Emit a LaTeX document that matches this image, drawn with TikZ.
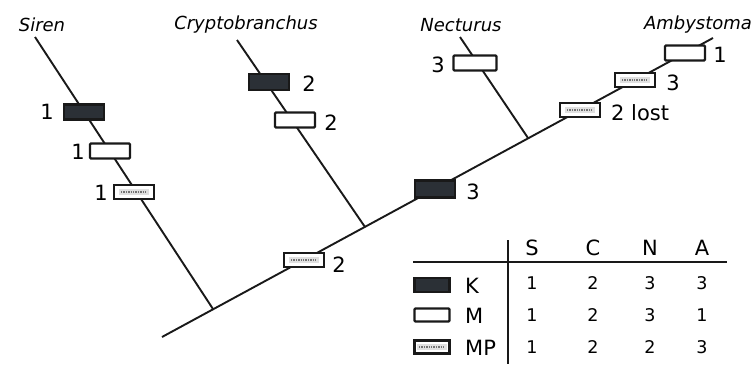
\documentclass[tikz,border=0pt]{standalone}
\usepackage{fontspec}
\setmainfont{DejaVu Sans}
\usetikzlibrary{calc}
\definecolor{kfill}{rgb}{0.17,0.19,0.21}
\tikzset{
  br/.style={line width=1.9pt, black!90},
  basebox/.style={draw=black!90, line width=2.2pt, inner sep=0pt, minimum width=40pt, minimum height=15pt},
  kbox/.style={basebox, fill=kfill},
  mbox/.style={basebox, fill=white, rounded corners=1pt},
  mpbox/.style={basebox, fill=white, minimum height=14pt,
    path picture={\fill[black!12] ([xshift=-15pt,yshift=-3pt]path picture bounding box.center) rectangle ([xshift=15pt,yshift=3pt]path picture bounding box.center);
      \draw[black!55, densely dotted, line width=1.4pt]
      ([xshift=-13pt]path picture bounding box.center) -- ([xshift=13pt]path picture bounding box.center);}},
  sp/.style={font=\fontsize{18}{20}\selectfont\itshape, inner sep=0pt},
  num/.style={font=\fontsize{21}{24}\selectfont, inner sep=0pt},
  hd/.style={font=\fontsize{21}{24}\selectfont, inner sep=0pt},
  td/.style={font=\fontsize{17.5}{20}\selectfont, inner sep=0pt},
}
\begin{document}
\begin{tikzpicture}[x=1pt,y=-1pt]
\useasboundingbox (0,0) rectangle (754,364);
% species labels
\node[sp] (siren) at (42,25) {Siren};
\node[sp] (cryp) at (246,25) {Cryptobranchus};
\node[sp] (nect) at (461,25) {Necturus};
\node[sp] (amb) at (698,25) {Ambystoma};
% coordinates
\coordinate (root) at (162,337);
\coordinate (jS) at (213,309);
\coordinate (jC) at (365,227);
\coordinate (jN) at (528,138);
\coordinate (sTop) at (35,37);
\coordinate (cTop) at (237,40);
\coordinate (nTop) at (460,37);
\coordinate (aTop) at (713,38);
% branches
\draw[br] (root) -- (aTop);
\draw[br] (sTop) -- (jS);
\draw[br] (cTop) -- (jC);
\draw[br] (nTop) -- (jN);
% boxes
\node[kbox] (sK) at (84,112) {};
\node[mbox] (sM) at (110,151) {};
\node[mpbox] (sMP) at (134,192) {};
\node[kbox, minimum height=16pt] (cK) at (269,82) {};
\node[mbox] (cM) at (295,120) {};
\node[mbox, minimum width=43pt] (nM) at (475,63) {};
\node[mpbox] (tMP) at (304,260) {};
\node[kbox, minimum height=17pt] (tK) at (435,189) {};
\node[mpbox] (lMP) at (580,110) {};
\node[mpbox] (aMP) at (635,80) {};
\node[mbox] (aM) at (685,53) {};
% numbers
\node[num] at (47,112) {1};
\node[num] at (78,152) {1};
\node[num] at (101,193) {1};
\node[num] at (309,84) {2};
\node[num] at (331,123) {2};
\node[num] at (438,65) {3};
\node[num] at (339,265) {2};
\node[num] at (473,192) {3};
\node[num, anchor=west] at (611,113) {2 lost};
\node[num] at (673,83) {3};
\node[num] at (720,55) {1};
% table
\draw[line width=2.2pt, black!90] (413,262) -- (727,262);
\draw[line width=1.9pt, black!90] (508,240) -- (508,364);
\node[hd] at (532,248) {S};
\node[hd] at (593,248) {C};
\node[hd] at (650,248) {N};
\node[hd] at (702,248) {A};
\node[kbox, minimum width=35pt, minimum height=14pt] (lK) at (432,285) {};
\node[mbox, minimum width=35pt, minimum height=13pt] (lM) at (432,315) {};
\node[mpbox, minimum width=35pt, minimum height=13pt] (lMP) at (432,347) {};
\node[hd, anchor=west] at (465,286) {K};
\node[hd, anchor=west] at (465,316) {M};
\node[hd, anchor=west] at (465,348) {MP};
\node[td] at (532,283) {1};
\node[td] at (593,283) {2};
\node[td] at (650,283) {3};
\node[td] at (702,283) {3};
\node[td] at (532,315) {1};
\node[td] at (593,315) {2};
\node[td] at (650,315) {3};
\node[td] at (702,315) {1};
\node[td] at (532,347) {1};
\node[td] at (593,347) {2};
\node[td] at (650,347) {2};
\node[td] at (702,347) {3};
\end{tikzpicture}
\end{document}
